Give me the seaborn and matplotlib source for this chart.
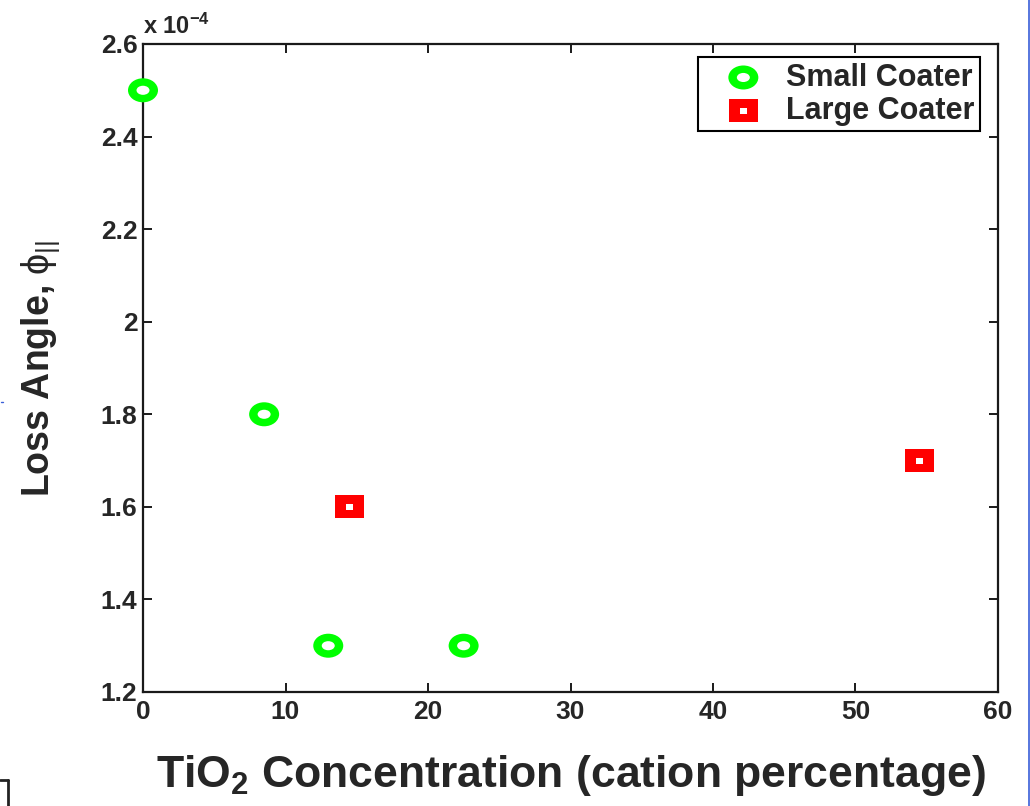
import numpy as np
import pandas as pd
import matplotlib
matplotlib.use("Agg")
import matplotlib.pyplot as plt
from matplotlib.path import Path
from matplotlib.transforms import Affine2D
from matplotlib.lines import Line2D
from matplotlib.ticker import FuncFormatter
import seaborn as sns

# Loss angle measurements vs. TiO2 cation concentration
small_tio2 = [0.0, 8.5, 13.0, 22.5]
small_loss = [2.5e-4, 1.8e-4, 1.3e-4, 1.3e-4]
large_tio2 = [14.5, 54.5]
large_loss = [1.6e-4, 1.7e-4]
series_names = ["Small Coater", "Large Coater"]

x_ticks = [0, 10, 20, 30, 40, 50, 60]
y_ticks = [1.2e-4, 1.4e-4, 1.6e-4, 1.8e-4, 2.0e-4, 2.2e-4, 2.4e-4, 2.6e-4]

small_df = pd.DataFrame({"tio2": small_tio2, "loss": small_loss})
large_df = pd.DataFrame({"tio2": large_tio2, "loss": large_loss})

sns.set_style("ticks")
plt.rcParams["font.family"] = ["Liberation Sans", "DejaVu Sans"]
plt.rcParams["mathtext.fontset"] = "custom"
plt.rcParams["mathtext.rm"] = "Liberation Sans"
plt.rcParams["mathtext.bf"] = "Liberation Sans:bold"
plt.rcParams["mathtext.it"] = "Liberation Sans"
plt.rcParams["mathtext.sf"] = "Liberation Sans:bold"


def ellipse_marker(aspect):
    """Filled ellipse marker, wider than tall by 1/aspect."""
    return Path.unit_circle().transformed(Affine2D().scale(1.0, aspect))


def rect_marker(aspect):
    verts = [(-1, -aspect), (1, -aspect), (1, aspect), (-1, aspect), (-1, -aspect)]
    codes = [Path.MOVETO, Path.LINETO, Path.LINETO, Path.LINETO, Path.CLOSEPOLY]
    return Path(verts, codes)


px = 72.0 / 100.0  # points per pixel at 100 dpi

fig = plt.figure(figsize=(10.3, 8.06), dpi=100)
ax = fig.add_axes([143 / 1030, (806 - 692) / 806, (998 - 143) / 1030, (692 - 44) / 806])

green = "#00ff00"
red = "#ff0000"

sns.scatterplot(data=small_df, x="tio2", y="loss", ax=ax,
                marker=ellipse_marker(0.8), s=(30 * px) ** 2,
                color=green, edgecolor="none", linewidth=0, zorder=3)
h_ring_outer = ax.collections[-1]
sns.scatterplot(data=small_df, x="tio2", y="loss", ax=ax,
                marker=ellipse_marker(0.7), s=(13 * px) ** 2,
                color="white", edgecolor="none", linewidth=0, zorder=4)
h_ring_inner = ax.collections[-1]

sns.scatterplot(data=large_df, x="tio2", y="loss", ax=ax,
                marker=rect_marker(0.8), s=(29 * px) ** 2,
                color=red, edgecolor="none", linewidth=0, zorder=3)
h_sq_outer = ax.collections[-1]
sns.scatterplot(data=large_df, x="tio2", y="loss", ax=ax,
                marker=rect_marker(0.86), s=(7 * px) ** 2,
                color="white", edgecolor="none", linewidth=0, zorder=4)
h_sq_inner = ax.collections[-1]

for coll in ax.collections:
    coll.set_clip_on(False)

ax.set_xlim(0, 60)
ax.set_ylim(1.2e-4, 2.6e-4)
ax.set_xticks(x_ticks)
ax.set_yticks(y_ticks)
ax.yaxis.set_major_formatter(FuncFormatter(lambda v, p: "%g" % round(v * 1e4, 4)))

for sp in ax.spines.values():
    sp.set_visible(True)
    sp.set_linewidth(1.6)
    sp.set_color("#1a1a1a")
    sp.set_zorder(2)

ax.tick_params(axis="both", which="major", direction="in", length=6.5, width=1.4,
               top=True, right=True, labelsize=19, color="#1a1a1a")
ax.tick_params(axis="x", pad=6)
ax.tick_params(axis="y", pad=4)
for lab in ax.get_xticklabels() + ax.get_yticklabels():
    lab.set_fontweight("bold")

ax.text(0.0, 1.008, r"x 10$^{\mathbf{-4}}$", transform=ax.transAxes,
        ha="left", va="bottom", fontsize=17, fontweight="bold")

ax.set_xlabel(r"TiO$_{\mathbf{2}}$ Concentration (cation percentage)",
              fontsize=32, fontweight="bold", labelpad=21)
ax.set_ylabel(r"Loss Angle, $\phi_{||}$", fontsize=27, fontweight="bold", labelpad=28)

leg = ax.legend(handles=[(h_ring_outer, h_ring_inner), (h_sq_outer, h_sq_inner)],
                labels=series_names, loc="upper right",
                bbox_to_anchor=((980 - 143) / 855, 1 - (57 - 44) / 648),
                borderaxespad=0, fontsize=22, frameon=True, fancybox=False,
                edgecolor="black", framealpha=1, borderpad=0.18, labelspacing=0.1,
                handlelength=2.6, handletextpad=0.1, scatterpoints=1)
leg.get_frame().set_linewidth(1.5)
for t in leg.get_texts():
    t.set_fontweight("bold")

# thin frame marks along the figure edges
fig.add_artist(Line2D([1029 / 1030, 1029 / 1030], [0, 1], color="#3a5fd8", lw=1.2))
fig.add_artist(Line2D([8 / 1030, 8 / 1030], [0, (806 - 780) / 806], color="#222222", lw=2))
fig.add_artist(Line2D([0, 8 / 1030], [(806 - 780) / 806, (806 - 780) / 806], color="#222222", lw=2))
fig.add_artist(Line2D([1 / 1030, 3 / 1030], [(806 - 402) / 806, (806 - 402) / 806], color="#3a5fd8", lw=1))

fig.savefig("out.png", dpi=100, facecolor="white")
